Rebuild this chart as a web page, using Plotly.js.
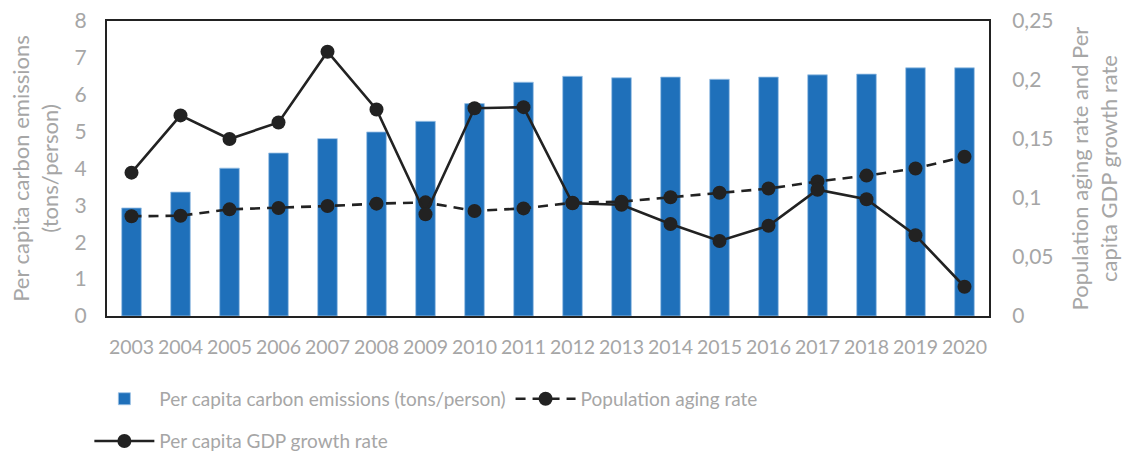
<!DOCTYPE html>
<html>
<head>
<meta charset="utf-8">
<script src="https://cdn.plot.ly/plotly-3.0.1.min.js"></script>
<style>html,body{margin:0;padding:0;background:#fff;}#chart{width:1125px;height:453px;}</style>
</head>
<body>
<div id="chart"></div>
<script>
const years = ["2003","2004","2005","2006","2007","2008","2009","2010","2011","2012","2013","2014","2015","2016","2017","2018","2019","2020"];
const carbonEmissions = [2.93,3.36,4.01,4.42,4.81,4.99,5.28,5.76,6.34,6.50,6.46,6.48,6.42,6.48,6.54,6.56,6.73,6.73];
const agingRate = [0.0845,0.085,0.0904,0.0915,0.0932,0.0952,0.0963,0.089,0.0912,0.096,0.0969,0.1006,0.1045,0.108,0.114,0.119,0.125,0.135];
const gdpGrowth = [0.1215,0.170,0.150,0.164,0.224,0.175,0.0862,0.176,0.177,0.0955,0.0943,0.078,0.0636,0.0765,0.107,0.0989,0.0684,0.0248];
const rightTickVals = [0,0.05,0.1,0.15,0.2,0.25];
const rightTickText = ["0","0,05","0,1","0,15","0,2","0,25"];

const grey = '#a6a6a6';
const dark = '#222222';
const fontFam = 'Lato, "Open Sans", sans-serif';

const traces = [
  {type:'bar', x:years, y:carbonEmissions, name:'Per capita carbon emissions (tons/person)',
   marker:{color:'#1f70ba', line:{color:'#9dc3e6', width:0.8}}, width:0.4, yaxis:'y', legend:'legend'},
  {type:'scatter', mode:'lines+markers', x:years, y:agingRate, name:'Population aging rate', yaxis:'y2',
   line:{color:dark, width:2.6, dash:'10px,7px'}, marker:{color:dark, size:14}, legend:'legend'},
  {type:'scatter', mode:'lines+markers', x:years, y:gdpGrowth, name:'Per capita GDP growth rate', yaxis:'y2',
   line:{color:dark, width:2.6}, marker:{color:dark, size:14}, legend:'legend2'}
];

const layout = {
  width:1125, height:453,
  margin:{l:107, r:136, t:21, b:137, autoexpand:false},
  paper_bgcolor:'#fff', plot_bgcolor:'#fff',
  font:{family:fontFam, color:grey},
  showlegend:true,
  xaxis:{type:'category', range:[-0.5, years.length - 0.5], showgrid:false, showline:true, mirror:true, linecolor:dark, linewidth:2, automargin:false,
    tickangle:0, ticks:'outside', ticklen:13, tickcolor:'rgba(0,0,0,0)', tickfont:{size:19.5, color:grey}, fixedrange:true},
  yaxis:{range:[0,8], dtick:1, showgrid:false, zeroline:false, showline:true, mirror:true, linecolor:dark, linewidth:2,
    automargin:false, ticks:'outside', ticklen:14, tickcolor:'rgba(0,0,0,0)', tickfont:{size:21, color:grey},
    title:{text:'Per capita carbon emissions<br>(tons/person)', font:{size:22, color:grey}, standoff:10}},
  yaxis2:{range:[0,0.25], overlaying:'y', side:'right', showgrid:false, zeroline:false, showline:false, automargin:false,
    tickvals:rightTickVals, ticktext:rightTickText,
    ticks:'outside', ticklen:18, tickcolor:'rgba(0,0,0,0)', tickfont:{size:21, color:grey},
    title:{text:'Population aging rate and Per<br>capita GDP growth rate', font:{size:22, color:grey}, standoff:20}},
  legend:{orientation:'h', x:-0.02, xanchor:'left', y:-0.281, yanchor:'middle', font:{size:19, color:grey},
    itemwidth:60, bgcolor:'rgba(0,0,0,0)', traceorder:'normal'},
  legend2:{orientation:'h', x:-0.02, xanchor:'left', y:-0.424, yanchor:'middle', font:{size:19, color:grey},
    itemwidth:60, bgcolor:'rgba(0,0,0,0)'}
};

Plotly.newPlot('chart', traces, layout, {displayModeBar:false, staticPlot:true});
</script>
</body>
</html>
